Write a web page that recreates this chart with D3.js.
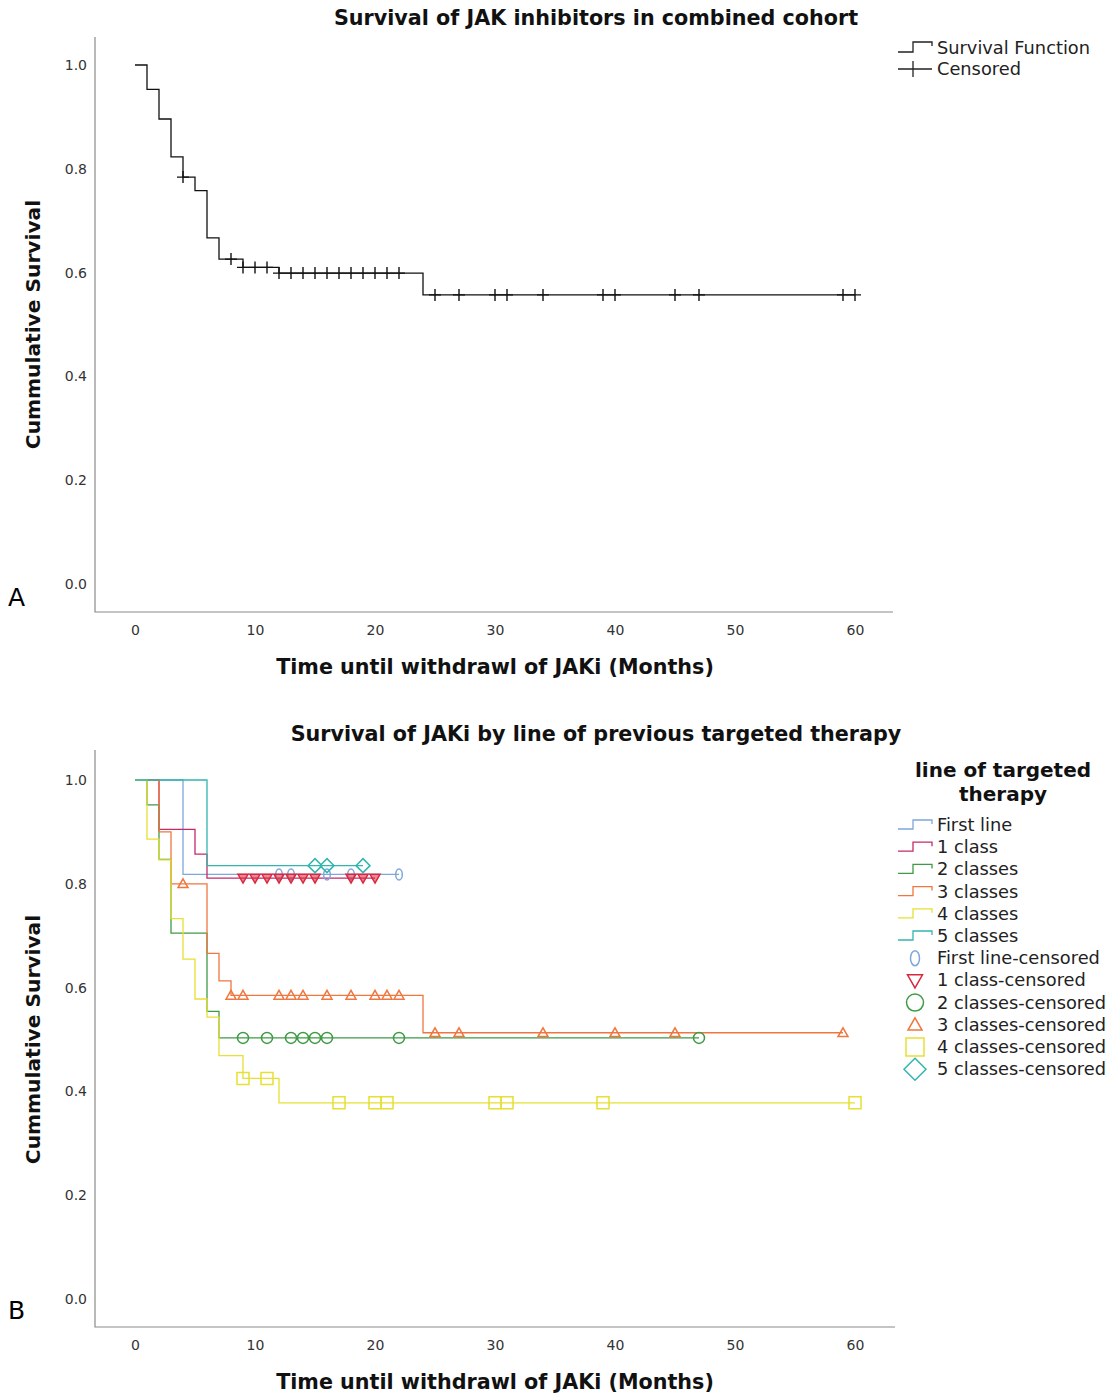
<!DOCTYPE html>
<html>
<head>
<meta charset="utf-8">
<script src="https://cdn.jsdelivr.net/npm/d3@7"></script>
<style>
  body { margin: 0; background: #fff; }
  text { font-family: "DejaVu Sans", "Open Sans", sans-serif; }
</style>
</head>
<body>
<div class="canvas"></div>
<script>
// ---- data ----
const xTicks = [0, 10, 20, 30, 40, 50, 60];
const yTicks = [0.0, 0.2, 0.4, 0.6, 0.8, 1.0];

// panel A: combined cohort
const combinedTimes = [0, 1, 2, 3, 4, 5, 6, 7, 9, 12, 24];
const combinedSurv = [1.0, 0.953, 0.896, 0.823, 0.784, 0.758, 0.667, 0.626, 0.610, 0.599, 0.557];
const combinedEnd = 60;
const combinedCensored = [4, 8, 9, 10, 11, 12, 13, 14, 15, 16, 17, 18, 19, 20, 21, 22, 25, 27, 30, 31, 34, 39, 40, 45, 47, 59, 60];

// panel B: by line of previous targeted therapy
const groupNames = ['First line', '1 class', '2 classes', '3 classes', '4 classes', '5 classes'];
const groupTimes = [
  [0, 4],
  [0, 2, 5, 6],
  [0, 1, 2, 3, 6, 7],
  [0, 2, 3, 6, 7, 8, 24],
  [0, 1, 2, 3, 4, 5, 6, 7, 9, 12],
  [0, 6]
];
const groupSurv = [
  [1.0, 0.818],
  [1.0, 0.905, 0.857, 0.811],
  [1.0, 0.952, 0.847, 0.705, 0.554, 0.503],
  [1.0, 0.900, 0.800, 0.666, 0.613, 0.585, 0.513],
  [1.0, 0.886, 0.846, 0.733, 0.655, 0.578, 0.543, 0.469, 0.425, 0.378],
  [1.0, 0.835]
];
const groupEnd = [22, 20, 47, 59, 60, 19];
const groupCensored = [
  [12, 13, 16, 18, 22],
  [9, 10, 11, 12, 13, 14, 15, 18, 19, 20],
  [9, 11, 13, 14, 15, 16, 22, 47],
  [4, 8, 9, 12, 13, 14, 16, 18, 20, 21, 22, 25, 27, 34, 40, 45, 59],
  [9, 11, 17, 20, 21, 30, 31, 39, 60],
  [15, 16, 19]
];

const groupColors = ['#7ea7dd', '#c42a6a', '#3f9a45', '#f0763f', '#e6e032', '#33b5b0'];
const markerColors = ['#7ea7dd', '#d8283f', '#3f9a45', '#f0763f', '#e6e032', '#33b5b0'];
const markerShapes = ['ellipse', 'triDown', 'circle', 'triUp', 'square', 'diamond'];

// ---- drawing ----
const svg = d3.select('.canvas')
  .append('svg')
    .attr('width', 1115)
    .attr('height', 1399);

const x = d3.scaleLinear().domain([0, 60]).range([135, 855]);

function survAt(times, surv, t) {
  const i = d3.bisectRight(times, t) - 1;
  return surv[Math.max(0, i)];
}

function stepPoints(times, surv, end) {
  const pts = times.map((t, i) => [t, surv[i]]);
  pts.push([end, surv[surv.length - 1]]);
  return pts;
}

function markerPath(shape, s) {
  // s = nominal width in px
  if (shape === 'ellipse') {
    const rx = s * 0.3, ry = s * 0.5;
    return `M${-rx},0 A${rx},${ry} 0 1,0 ${rx},0 A${rx},${ry} 0 1,0 ${-rx},0 Z`;
  }
  if (shape === 'circle') {
    const r = s / 2;
    return `M${-r},0 A${r},${r} 0 1,0 ${r},0 A${r},${r} 0 1,0 ${-r},0 Z`;
  }
  if (shape === 'square') {
    const h = s / 2;
    return `M${-h},${-h}H${h}V${h}H${-h}Z`;
  }
  if (shape === 'diamond') {
    const h = s / 2;
    return `M0,${-h}L${h},0L0,${h}L${-h},0Z`;
  }
  const h = s / 2;
  if (shape === 'triUp') return `M0,${-h}L${h},${h * 0.75}L${-h},${h * 0.75}Z`;
  return `M0,${h}L${h},${-h * 0.75}L${-h},${-h * 0.75}Z`;
}

const markerSize = { ellipse: 11, triDown: 10, circle: 11, triUp: 10, square: 12, diamond: 14 };
const legendMarkerSize = { ellipse: 15, triDown: 15, circle: 17, triUp: 14, square: 18, diamond: 22 };

function drawPanel(opt) {
  const y = d3.scaleLinear().domain([0, 1]).range([opt.y0, opt.y1]);
  const g = svg.append('g');

  // frame (left + bottom only)
  g.append('path')
    .attr('d', `M95,${opt.top}V${opt.bottom}H${opt.right}`)
    .attr('fill', 'none')
    .attr('stroke', '#8a8a8a')
    .attr('stroke-width', 1.2);

  const yAxis = d3.axisLeft(y).tickValues(yTicks).tickFormat(d3.format('.1f')).tickSize(0).tickPadding(0);
  const yAxisGroup = g.append('g').attr('transform', 'translate(87,0)').call(yAxis);
  const xAxis = d3.axisBottom(x).tickValues(xTicks).tickSize(0).tickPadding(0);
  const xAxisGroup = g.append('g').attr('transform', `translate(0,${opt.bottom + 10})`).call(xAxis);
  [yAxisGroup, xAxisGroup].forEach(ax => {
    ax.select('.domain').remove();
    ax.selectAll('text')
      .attr('font-family', '"DejaVu Sans Condensed", "DejaVu Sans", sans-serif')
      .attr('font-size', 14)
      .attr('fill', '#333');
  });
  xAxisGroup.selectAll('text').attr('dy', '0.9em');

  // titles
  g.append('text')
    .attr('x', 596).attr('y', opt.titleY)
    .attr('text-anchor', 'middle')
    .attr('font-weight', 'bold').attr('font-size', 20.7).attr('fill', '#111')
    .text(opt.title);
  g.append('text')
    .attr('x', 495).attr('y', opt.bottom + 62)
    .attr('text-anchor', 'middle')
    .attr('font-weight', 'bold').attr('font-size', 20.7).attr('fill', '#111')
    .text('Time until withdrawl of JAKi (Months)');
  g.append('text')
    .attr('transform', `translate(40,${(opt.y0 + opt.y1) / 2}) rotate(-90)`)
    .attr('text-anchor', 'middle')
    .attr('font-weight', 'bold').attr('font-size', 20.2).attr('fill', '#111')
    .text('Cummulative Survival');
  g.append('text')
    .attr('x', 8).attr('y', opt.letterY)
    .attr('font-family', '"Liberation Sans", Arial, sans-serif')
    .attr('font-size', 25).attr('fill', '#000')
    .text(opt.letter);

  return { g, y };
}

const line = d3.line().curve(d3.curveStepAfter);

// ---- panel A ----
const A = drawPanel({ y0: 584, y1: 65, top: 37, bottom: 612, right: 893, titleY: 25,
  title: 'Survival of JAK inhibitors in combined cohort', letter: 'A', letterY: 606 });

A.g.append('path')
  .attr('d', line.x(d => x(d[0])).y(d => A.y(d[1]))(stepPoints(combinedTimes, combinedSurv, combinedEnd)))
  .attr('fill', 'none').attr('stroke', '#111').attr('stroke-width', 1.3);

A.g.selectAll('.cens')
  .data(combinedCensored)
  .enter()
  .append('path')
    .attr('transform', d => `translate(${x(d)},${A.y(survAt(combinedTimes, combinedSurv, d))})`)
    .attr('d', 'M-6,0H6M0,-6V6')
    .attr('stroke', '#111').attr('stroke-width', 1.4);

// legend A
const legA = A.g.append('g');
legA.append('path')
  .attr('d', 'M898,52H913V42H932V46')
  .attr('fill', 'none').attr('stroke', '#222').attr('stroke-width', 1.3);
legA.append('text').attr('x', 937).attr('y', 54).attr('font-size', 17.8).attr('fill', '#222').text('Survival Function');
legA.append('path')
  .attr('d', 'M898,69H932M913,61V77')
  .attr('fill', 'none').attr('stroke', '#222').attr('stroke-width', 1.3);
legA.append('text').attr('x', 937).attr('y', 75).attr('font-size', 17.8).attr('fill', '#222').text('Censored');

// ---- panel B ----
const B = drawPanel({ y0: 1299, y1: 780, top: 750, bottom: 1327, right: 895, titleY: 741,
  title: 'Survival of JAKi by line of previous targeted therapy', letter: 'B', letterY: 1319 });

groupNames.forEach((name, i) => {
  B.g.append('path')
    .attr('d', line.x(d => x(d[0])).y(d => B.y(d[1]))(stepPoints(groupTimes[i], groupSurv[i], groupEnd[i])))
    .attr('fill', 'none').attr('stroke', groupColors[i]).attr('stroke-width', 1.3);
});

groupNames.forEach((name, i) => {
  const shape = markerShapes[i];
  B.g.selectAll(`.m${i}`)
    .data(groupCensored[i])
    .enter()
    .append('path')
      .attr('transform', d => `translate(${x(d)},${B.y(survAt(groupTimes[i], groupSurv[i], d))})`)
      .attr('d', markerPath(shape, markerSize[shape]))
      .attr('fill', shape === 'triDown' ? markerColors[i] : 'none')
      .attr('fill-opacity', 0.55)
      .attr('stroke', markerColors[i]).attr('stroke-width', 1.5);
});

// legend B
const legB = B.g.append('g');
legB.append('text').attr('x', 1003).attr('y', 777).attr('text-anchor', 'middle')
  .attr('font-weight', 'bold').attr('font-size', 20).attr('fill', '#111').text('line of targeted');
legB.append('text').attr('x', 1003).attr('y', 801).attr('text-anchor', 'middle')
  .attr('font-weight', 'bold').attr('font-size', 20).attr('fill', '#111').text('therapy');

const legStep = 22.2;
groupNames.forEach((name, i) => {
  const cy = 825 + i * legStep;
  legB.append('path')
    .attr('d', `M898,${cy + 4}H913V${cy - 5}H932V${cy - 1}`)
    .attr('fill', 'none').attr('stroke', groupColors[i]).attr('stroke-width', 1.3);
  legB.append('text').attr('x', 937).attr('y', cy + 6).attr('font-size', 17.8).attr('fill', '#222').text(name);
});
groupNames.forEach((name, i) => {
  const cy = 825 + (i + 6) * legStep;
  const shape = markerShapes[i];
  legB.append('path')
    .attr('transform', `translate(915,${cy})`)
    .attr('d', markerPath(shape, legendMarkerSize[shape]))
    .attr('fill', 'none')
    .attr('stroke', markerColors[i]).attr('stroke-width', 1.5);
  legB.append('text').attr('x', 937).attr('y', cy + 6).attr('font-size', 17.8).attr('fill', '#222').text(name + '-censored');
});
</script>
</body>
</html>
